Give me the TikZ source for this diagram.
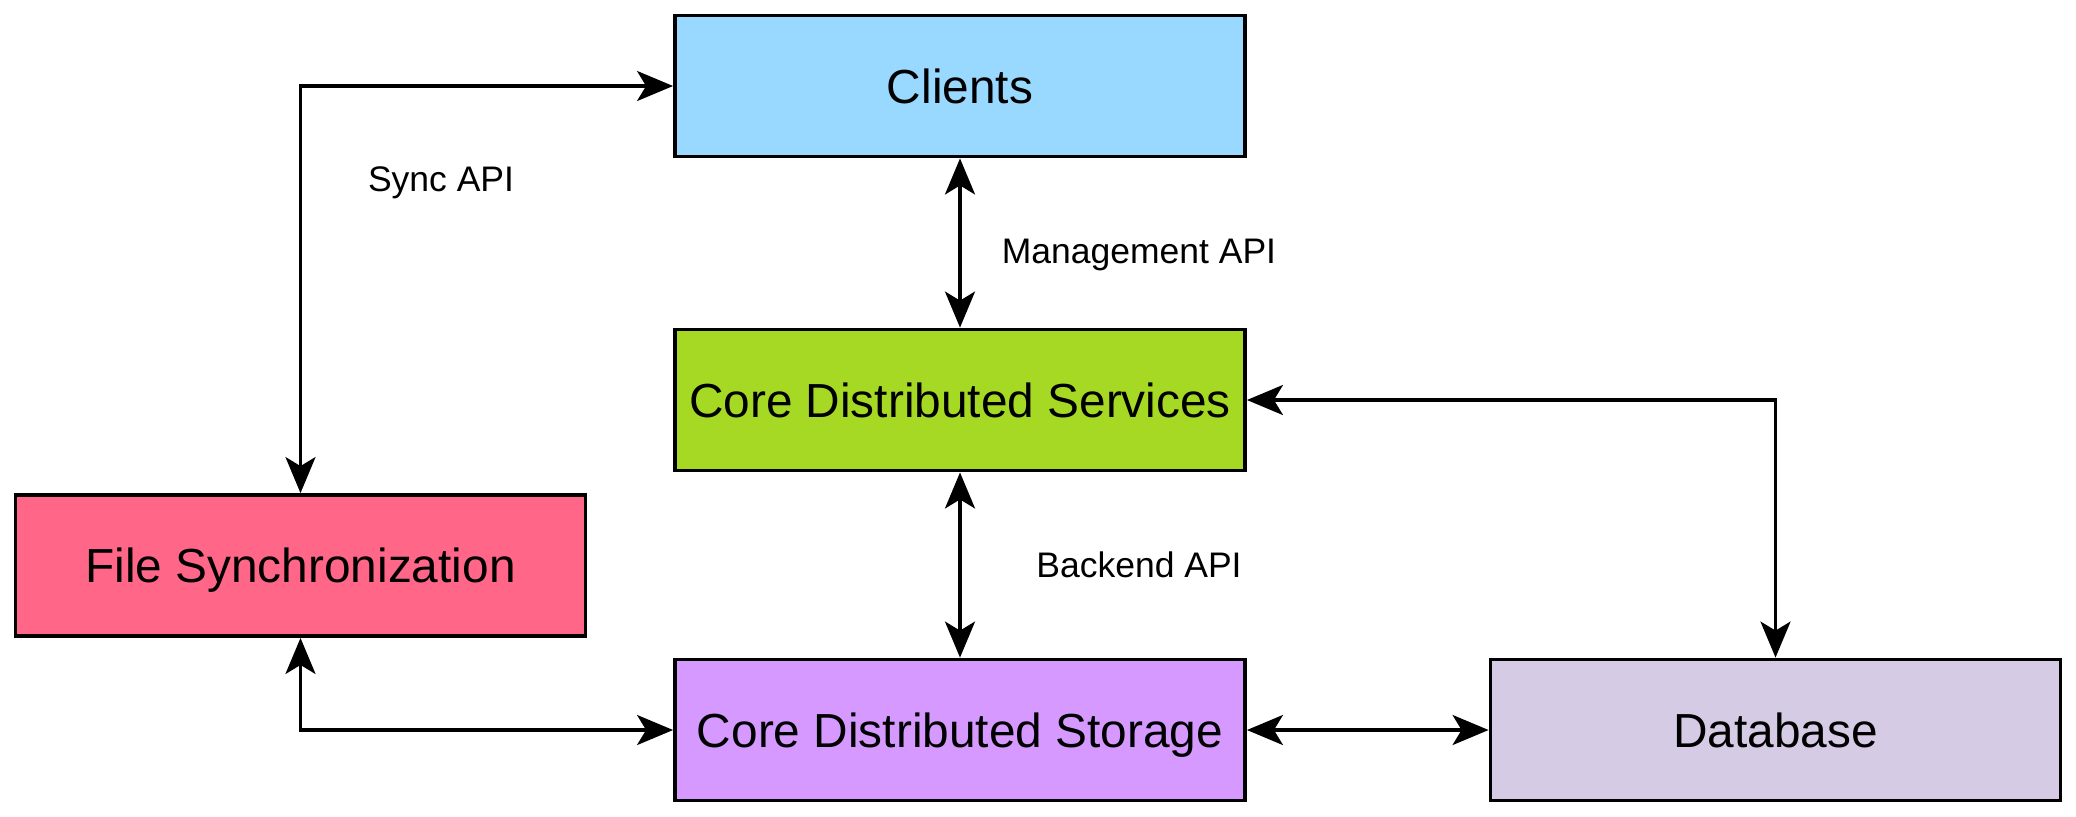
\documentclass[tikz,border=0pt]{standalone}
\usepackage{fontspec}
\setmainfont{Liberation Sans}
\usetikzlibrary{arrows.meta}
\definecolor{clientblue}{RGB}{153,217,255}
\definecolor{coregreen}{RGB}{166,217,35}
\definecolor{syncred}{RGB}{255,102,135}
\definecolor{storviolet}{RGB}{213,153,255}
\definecolor{dblilac}{RGB}{213,203,229}
\begin{document}
\begin{tikzpicture}[>={Stealth[length=3.6mm, width=3mm, inset=0.9mm]}]
\tikzset{box/.style={shape=rectangle, draw, line width=1.1pt, minimum width=5.7cm, minimum height=1.41cm, inner sep=0pt, text depth=0pt, font=\fontsize{13.6}{16}\selectfont},
  api/.style={text depth=0pt, font=\fontsize{10.1}{12}\selectfont},
  every path/.style={line width=0.9pt}}
\useasboundingbox (0, 0) rectangle (20.76, -8.16);
\node[box, fill=clientblue] (CL) at (9.60, -0.86) {Clients};
\node[box, fill=coregreen] (CDS) at (9.60, -4.00) {Core Distributed Services};
\node[box, fill=syncred] (FS) at (3.005, -5.655) {File Synchronization};
\node[box, fill=storviolet] (CST) at (9.60, -7.30) {Core Distributed Storage};
\node[box, fill=dblilac] (DB) at (17.755, -7.30) {Database};
\node[api] (SAPI) at (4.41, -1.79) {Sync API};
\node[api] (MAPI) at (11.39, -2.51) {Management API};
\node[api] (BAPI) at (11.39, -5.65) {Backend API};
\draw [<->] (CL.west) -| (FS.north);
\draw [<->] (FS.south) |- (CST.west);
\draw [<->] (CL) to (CDS);
\draw [<->] (CDS) to (CST);
\draw [<->] (CDS.east) -| (DB.north);
\draw [<->] (CST) to (DB);
\end{tikzpicture}
\end{document}
